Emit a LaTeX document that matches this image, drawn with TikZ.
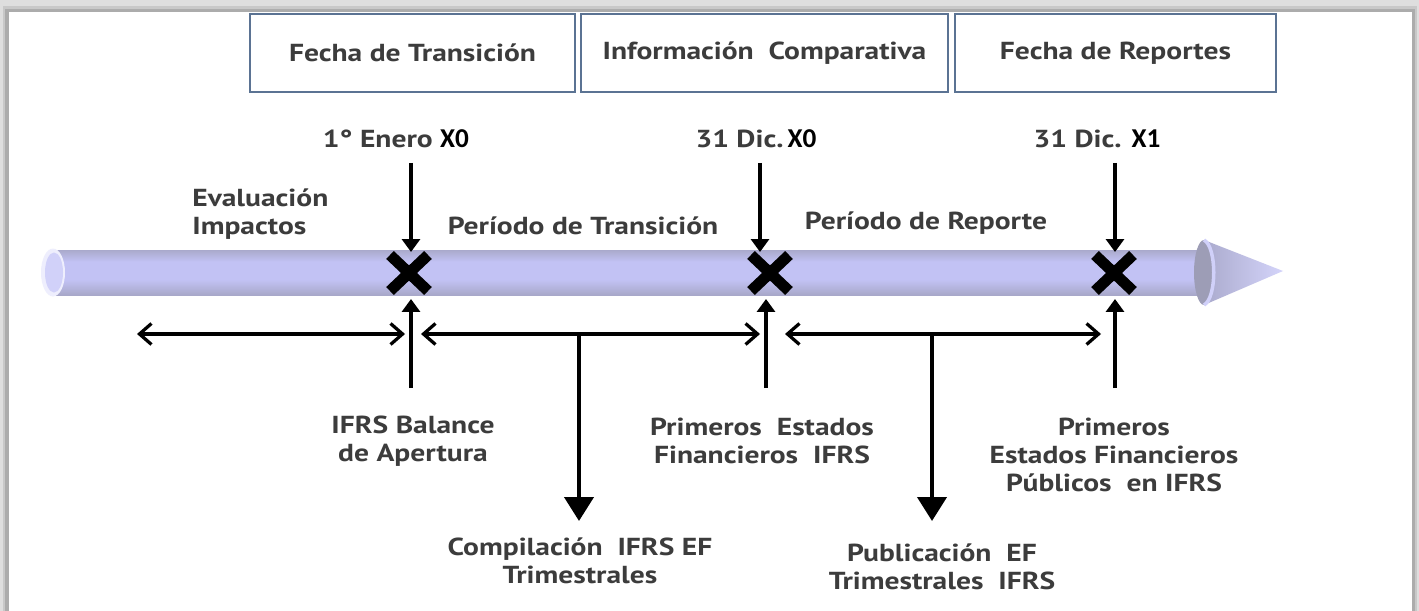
\documentclass[tikz,border=0pt]{standalone}
\usepackage{fontspec}
\setmainfont{PT Sans}[FakeStretch=1.2]
\newfontfamily\xfont{Carlito}
\usetikzlibrary{arrows.meta}
\definecolor{txt}{HTML}{3C3C3C}
\definecolor{boxline}{HTML}{5B7393}
\definecolor{lav}{HTML}{C2C2F4}
\definecolor{lavl}{HTML}{D4D4FA}
\definecolor{lavd}{HTML}{A0A0BC}
\definecolor{tubeedge}{HTML}{7A7A7A}
\pgfdeclareverticalshading{tube}{100bp}{color(0bp)=(tubeedge); color(20bp)=(lavd); color(42bp)=(lav); color(62bp)=(lav); color(80bp)=(lavd); color(100bp)=(tubeedge)}
\newcommand\xo[1]{{\xfont\fontsize{15.5}{16}\selectfont\bfseries\color{black}#1}}
\tikzset{
  lbl/.style={font=\fontsize{14}{16}\selectfont\bfseries, text=txt, align=center, inner sep=0pt},
  hdr/.style={draw=boxline, line width=0.9pt, fill=white, minimum height=1.56cm, inner sep=0pt, font=\fontsize{14}{16}\selectfont\bfseries, text=txt},
  smallarr/.style={line width=0.065cm, -{Triangle[length=0.26cm,width=0.36cm]}},
  dblarr/.style={line width=0.065cm, {Straight Barb[length=0.24cm,width=0.42cm,line width=0.065cm]}-{Straight Barb[length=0.24cm,width=0.42cm,line width=0.065cm]}},
  bigarr/.style={line width=0.085cm, -{Triangle[length=0.48cm,width=0.58cm]}},
  cross/.style={line width=0.22cm, black}
}
\begin{document}
\begin{tikzpicture}[x=0.02cm,y=-0.02cm]
% frame / shadow
\fill[fill={rgb,255:red,222;green,222;blue,222}] (0,0) rectangle (1419,611);
\fill[fill={rgb,255:red,200;green,200;blue,200}] (3,6) rectangle (1417,611);
\fill[fill={rgb,255:red,172;green,172;blue,172}] (5,9) rectangle (1415,611);
\fill[white] (9,12) rectangle (1412,611);
\useasboundingbox (0,0) rectangle (1419,611);

% header boxes
\node[hdr, minimum width=6.5cm] (h1) at (412.5,53) {Fecha de Transición};
\node[hdr, minimum width=7.34cm] (h2) at (764.5,53) {Información\ \ Comparativa};
\node[hdr, minimum width=6.42cm] (h3) at (1115.5,53) {Fecha de Reportes};

% tube
\shade[shading=tube] (53,250) rectangle (1208,295);
\fill[lavd!90!gray] (1204,272.5) ellipse [x radius=10, y radius=32.5];
\shade[left color=lavd!70!lav, right color=lavl] (1204,240) -- (1283,271) -- (1204,305) .. controls (1217,298) and (1217,247) .. (1204,240) -- cycle;
\draw[lavl!80!lav, line width=2pt] (1204,305) .. controls (1217,298) and (1217,247) .. (1204,240);
\fill[white!60!lavl] (53,272.5) ellipse [x radius=12, y radius=24];
\fill[lavl!85!lav] (54,272.5) ellipse [x radius=9, y radius=20];

% markers
\coordinate (m0) at (409,273);
\coordinate (m1) at (770,273);
\coordinate (m2) at (1114,273);
\foreach \m in {m0,m1,m2}{
  \draw[cross] ([shift={(-19,-18)}]\m) -- ([shift={(19,18)}]\m);
  \draw[cross] ([shift={(-19,18)}]\m) -- ([shift={(19,-18)}]\m);
}

% top date labels
\node[lbl] (d0) at (396,139) {1° Enero \xo{X0}};
\node[lbl] (d1) at (756,139) {31 Dic.\,\xo{X0}};
\node[lbl] (d2) at (1097,139) {31 Dic. \xo{X1}};

% down arrows into markers
\coordinate (t0) at (411,163); \coordinate (b0) at (411,252);
\coordinate (t1) at (760,163); \coordinate (b1) at (760,252);
\coordinate (t2) at (1115,163); \coordinate (b2) at (1115,252);
\draw[smallarr] (t0) -- (b0);
\draw[smallarr] (t1) -- (b1);
\draw[smallarr] (t2) -- (b2);

% up arrows
\coordinate (u0s) at (411,388); \coordinate (u0e) at (411,299);
\coordinate (u1s) at (766,388); \coordinate (u1e) at (766,299);
\coordinate (u2s) at (1115,388); \coordinate (u2e) at (1115,299);
\draw[smallarr] (u0s) -- (u0e);
\draw[smallarr] (u1s) -- (u1e);
\draw[smallarr] (u2s) -- (u2e);

% period labels
\node[lbl, align=left, anchor=west] (eval) at (192,214) {Evaluación\\Impactos};
\node[lbl] (pt) at (583,226) {Período de Transición};
\node[lbl] (pr) at (926,223) {Período de Reporte};

% horizontal double arrows
\coordinate (h1l) at (137,334); \coordinate (h1r) at (405,334);
\coordinate (h2l) at (421,334); \coordinate (h2r) at (760,334);
\coordinate (h3l) at (785,334); \coordinate (h3r) at (1101,334);
\draw[dblarr] (h1l) -- (h1r);
\draw[dblarr] (h2l) -- (h2r);
\draw[dblarr] (h3l) -- (h3r);

% big down arrows
\coordinate (c1) at (579,334); \coordinate (c1e) at (579,521);
\coordinate (c2) at (932,334); \coordinate (c2e) at (932,521);
\draw[bigarr] (c1) -- (c1e);
\draw[bigarr] (c2) -- (c2e);

% bottom labels
\node[lbl] (ba) at (413,441) {IFRS Balance\\de Apertura};
\node[lbl] (pe) at (762,441) {Primeros\ \ Estados\\Financieros\ \ IFRS};
\node[lbl] (pp) at (1114,455) {Primeros\\Estados Financieros\\Públicos\ \ en IFRS};
\node[lbl] (comp) at (580,561) {Compilación\ \ IFRS EF\\Trimestrales};
\node[lbl] (pub) at (942,567) {Publicación\ \ EF\\Trimestrales\ \ IFRS};
\end{tikzpicture}
\end{document}
